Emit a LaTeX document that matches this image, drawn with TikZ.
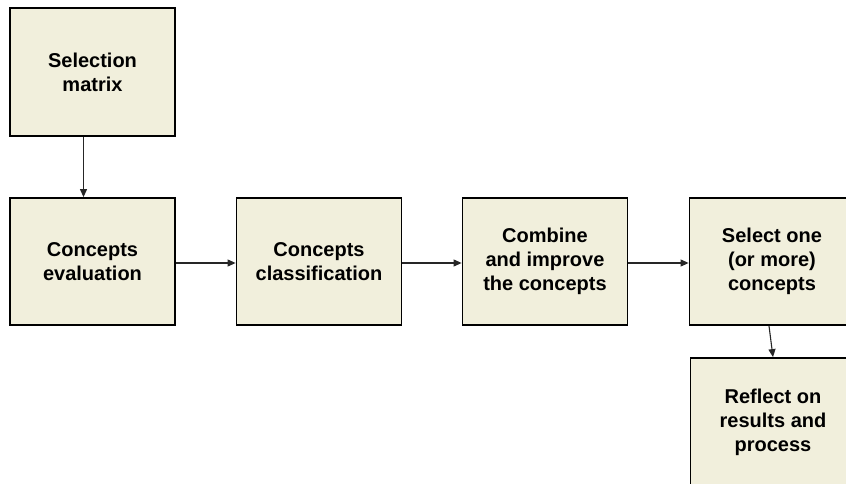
\documentclass[tikz,border=0pt]{standalone}
\usepackage{fontspec}
\setmainfont{Liberation Sans}
\usetikzlibrary{arrows.meta}
\definecolor{boxfill}{RGB}{241,239,220}
\begin{document}
\begin{tikzpicture}[x=1pt,y=-1pt,
  stepbox/.style={draw=black, line width=1.8pt, fill=boxfill,
    minimum width=165pt, minimum height=127pt, inner sep=0pt,
    align=center, font=\fontsize{20}{24}\selectfont\bfseries},
  link/.style={draw=black!85, line width=1.1pt,
    -{Triangle[length=8pt,width=7pt]}}]
\useasboundingbox (0,0) rectangle (846,484);
\clip (0,0) rectangle (846,484);
% process boxes
\node[stepbox, minimum height=128pt] (sel) at (92.5,72) {Selection\\matrix};
\node[stepbox] (eval) at (92.5,261.5) {Concepts\\evaluation};
\node[stepbox] (class) at (319,261.5) {Concepts\\classification};
\node[stepbox] (comb) at (545,261.5) {Combine\\and improve\\the concepts};
\node[stepbox] (pick) at (772,261.5) {Select one\\(or more)\\concepts};
\node[stepbox, minimum height=128pt] (refl) at (773,422) {Reflect on\\results and\\process};
% connectors
\draw[link] ([xshift=-9pt]sel.south) -- ([xshift=-9pt]eval.north);
\draw[link] ([yshift=-1.5pt]eval.east) -- ([yshift=-1.5pt]class.west);
\draw[link] ([yshift=-1.5pt]class.east) -- ([yshift=-1.5pt]comb.west);
\draw[link] ([yshift=-1.5pt]comb.east) -- ([yshift=-1.5pt]pick.west);
\draw[link] ([xshift=-3pt]pick.south) -- (refl.north);
\end{tikzpicture}
\end{document}
